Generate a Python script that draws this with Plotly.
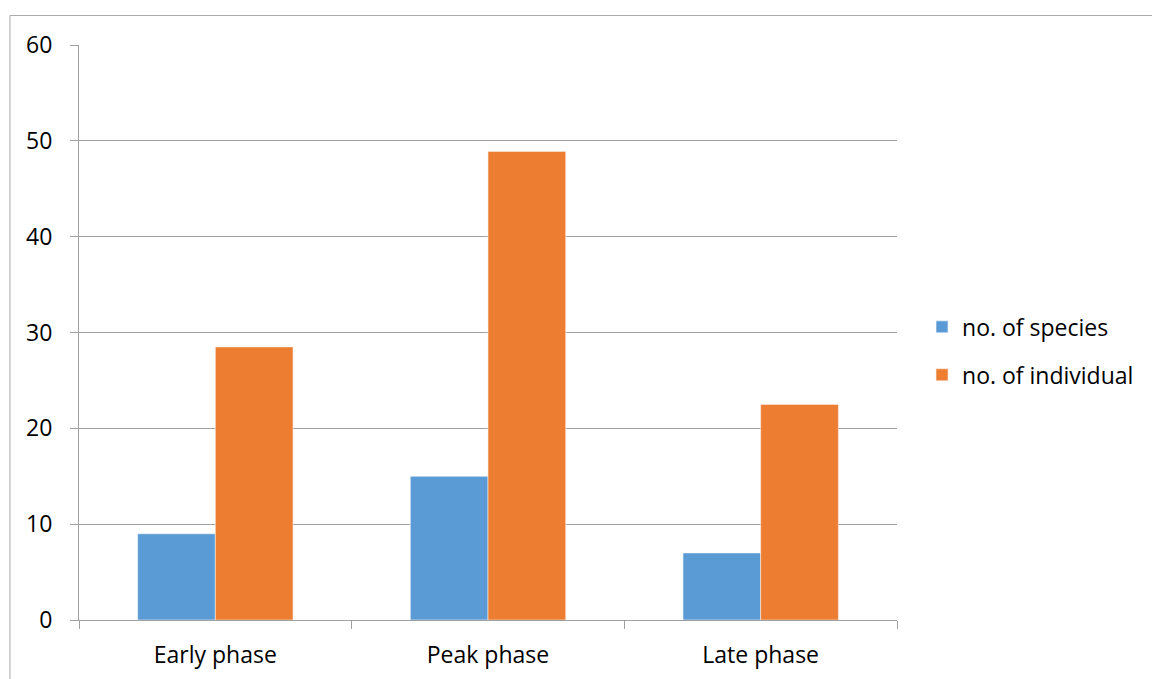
import plotly.graph_objects as go

phases = ["Early phase", "Peak phase", "Late phase"]
species = [9, 15, 7]
individuals = [28.5, 48.9, 22.5]
y_ticks = [0, 10, 20, 30, 40, 50, 60]

BLUE = "#5B9BD5"
ORANGE = "#ED7D31"
GRID = "#A0A0A0"
FONT = "Open Sans"

fig = go.Figure()
fig.add_trace(go.Bar(x=phases, y=species, name="no. of species", legendgroup="a",
                     marker=dict(color=BLUE, line=dict(width=0.6, color="#F4F8FC"))))
fig.add_trace(go.Bar(x=phases, y=individuals, name="no. of individual", legendgroup="b",
                     marker=dict(color=ORANGE, line=dict(width=0.6, color="#FCEFE6"))))

fig.update_layout(
    width=1152, height=679,
    margin=dict(l=79, r=255, t=45, b=59, autoexpand=False),
    paper_bgcolor="white", plot_bgcolor="white",
    barmode="group", bargap=0.43, bargroupgap=0,
    font=dict(family=FONT, size=23, color="#000000"),
    legend=dict(x=1.0306, y=0.468, xanchor="left", yanchor="middle",
                font=dict(size=23), tracegroupgap=15, itemwidth=30,
                traceorder="grouped", bgcolor="rgba(0,0,0,0)"),
    xaxis=dict(showline=True, linecolor=GRID, linewidth=1,
               ticks="outside", tickson="boundaries", ticklen=8,
               tickcolor=GRID, showgrid=False, ticklabelstandoff=14),
    yaxis=dict(range=[0, 60], tickvals=y_ticks, showgrid=True, gridcolor=GRID,
               gridwidth=1, showline=True, linecolor=GRID, linewidth=1,
               ticks="outside", ticklen=8, tickcolor=GRID, zeroline=False,
               ticklabelstandoff=13),
    shapes=[
        dict(type="line", xref="paper", yref="paper", x0=-0.0844, x1=1.33,
             y0=1.0513, y1=1.0513, line=dict(color="#ABABAB", width=1)),
        dict(type="line", xref="paper", yref="paper", x0=-0.0844, x1=-0.0844,
             y0=1.0513, y1=-0.11, line=dict(color="#ABABAB", width=1)),
    ],
)

fig.write_html("out.html")
